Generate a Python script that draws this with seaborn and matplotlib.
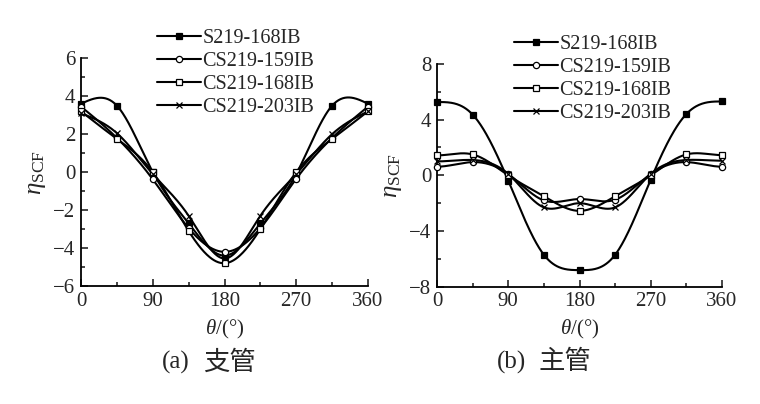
import numpy as np
import pandas as pd
import matplotlib
matplotlib.use("Agg")
import matplotlib.pyplot as plt
from matplotlib.lines import Line2D
from matplotlib.ticker import MultipleLocator
import seaborn as sns

# ---- data ----
theta = [0, 45, 90, 135, 180, 225, 270, 315, 360]
series_names = ["S219-168IB", "CS219-159IB", "CS219-168IB", "CS219-203IB"]

# (a) branch
a_S168 = [3.6, 3.5, 0.0, -2.7, -4.4, -2.7, -0.1, 3.5, 3.6]
a_CS159 = [3.45, 1.8, -0.38, -2.95, -4.2, -2.95, -0.35, 1.8, 3.45]
a_CS168 = [3.2, 1.75, 0.0, -3.1, -4.8, -3.0, 0.0, 1.75, 3.2]
a_CS203 = [3.1, 2.05, -0.1, -2.3, -4.55, -2.3, -0.1, 2.0, 3.2]

# (b) chord
b_S168 = [5.26, 4.36, -0.38, -5.7, -6.8, -5.7, -0.3, 4.4, 5.3]
b_CS159 = [0.62, 0.95, 0.1, -1.8, -1.7, -1.75, 0.1, 0.95, 0.62]
b_CS168 = [1.43, 1.5, 0.0, -1.5, -2.55, -1.5, 0.0, 1.5, 1.45]
b_CS203 = [1.0, 1.1, 0.1, -2.3, -2.0, -2.3, 0.1, 1.1, 1.05]

markers = ["s", "o", "s", "x"]
faces = ["black", "white", "white", "black"]


def cubic_spline(x, y, n=400, clamped=False):
    x = np.asarray(x, float)
    y = np.asarray(y, float)
    N = len(x)
    h = np.diff(x)
    A = np.zeros((N, N))
    r = np.zeros(N)
    for i in range(1, N - 1):
        A[i, i - 1] = h[i - 1]
        A[i, i] = 2 * (h[i - 1] + h[i])
        A[i, i + 1] = h[i]
        r[i] = 6 * ((y[i + 1] - y[i]) / h[i] - (y[i] - y[i - 1]) / h[i - 1])
    if clamped:
        A[0, 0] = 2 * h[0]; A[0, 1] = h[0]
        r[0] = 6 * ((y[1] - y[0]) / h[0])
        A[-1, -1] = 2 * h[-1]; A[-1, -2] = h[-1]
        r[-1] = 6 * (0 - (y[-1] - y[-2]) / h[-1])
    else:
        A[0, 0] = 1; A[-1, -1] = 1
    M = np.linalg.solve(A, r)
    xs = np.linspace(x[0], x[-1], n)
    idx = np.clip(np.searchsorted(x, xs) - 1, 0, N - 2)
    x0, x1 = x[idx], x[idx + 1]
    hh = x1 - x0
    t0 = x1 - xs
    t1 = xs - x0
    ys = (M[idx] * t0 ** 3 / (6 * hh) + M[idx + 1] * t1 ** 3 / (6 * hh)
          + (y[idx] / hh - M[idx] * hh / 6) * t0
          + (y[idx + 1] / hh - M[idx + 1] * hh / 6) * t1)
    return xs, ys


sns.set_theme(style="ticks")
plt.rcParams["font.family"] = ["Liberation Serif", "Noto Sans CJK SC"]
plt.rcParams["mathtext.fontset"] = "custom"
plt.rcParams["mathtext.rm"] = "Liberation Serif"
plt.rcParams["mathtext.it"] = "Liberation Serif:italic"
plt.rcParams["xtick.direction"] = "in"
plt.rcParams["ytick.direction"] = "in"

fig = plt.figure(figsize=(7.6, 4.04), dpi=100)
axA = fig.add_axes([0.1066, 0.292, 0.3776, 0.564])
axB = fig.add_axes([0.575, 0.290, 0.375, 0.552])


def draw(ax, data, clamped, ylim, ymajor, yminor, legend_pos):
    handles = []
    for name, vals, m, fc in zip(series_names, data, markers, faces):
        xs, ys = cubic_spline(theta, vals, clamped=clamped)
        df = pd.DataFrame({"theta": xs, "v": ys})
        sns.lineplot(data=df, x="theta", y="v", ax=ax, color="black",
                     linewidth=1.5, estimator=None, sort=False)
        ax.plot(theta, vals, linestyle="none", marker=m, markersize=4.5 if m != "x" else 5,
                markerfacecolor=fc, markeredgecolor="black", markeredgewidth=0.9,
                clip_on=False, zorder=5)
        handles.append(Line2D([0], [0], color="black", linewidth=1.5, marker=m,
                              markersize=4.5, markerfacecolor=fc,
                              markeredgecolor="black", markeredgewidth=0.9))
    ax.set_xlim(0, 360)
    ax.set_ylim(*ylim)
    ax.xaxis.set_major_locator(MultipleLocator(90))
    ax.xaxis.set_minor_locator(MultipleLocator(45))
    ax.yaxis.set_major_locator(MultipleLocator(ymajor))
    ax.yaxis.set_minor_locator(MultipleLocator(yminor))
    ax.tick_params(which="major", length=5, width=1.2, labelsize=15, pad=4)
    ax.tick_params(which="minor", length=3, width=1.2)
    for s in ["top", "right"]:
        ax.spines[s].set_visible(False)
    for s in ["left", "bottom"]:
        ax.spines[s].set_linewidth(1.3)
        ax.spines[s].set_color("black")
    ax.set_xlabel(r"$\theta$/(°)", fontsize=15, labelpad=5)
    ax.set_ylabel(r"$\eta_{\mathrm{SCF}}$", fontsize=18, labelpad=4)
    ax.set_facecolor("white")
    ax.grid(False)
    leg = ax.legend(handles, series_names, loc="upper left", bbox_to_anchor=legend_pos,
                    frameon=False, fontsize=14.5, handlelength=2.2, handletextpad=0.05,
                    labelspacing=0.2, borderaxespad=0, borderpad=0)
    return leg


draw(axA, [a_S168, a_CS159, a_CS168, a_CS203], False, (-6, 6), 2, 1, (0.265, 1.13))
draw(axB, [b_S168, b_CS159, b_CS168, b_CS203], True, (-8, 8), 4, 2, (0.27, 1.13))

# captions: (a)/(b) in serif, Chinese in CJK font
yc = 0.104
fig.text(176 / 760, yc, "(a)", ha="center", va="center", fontsize=18,
         family=["Liberation Serif"])
fig.text(229.5 / 760, yc, "支管", ha="center", va="center", fontsize=19,
         family=["Noto Sans CJK SC"], fontweight="light")
fig.text(512 / 760, yc, "(b)", ha="center", va="center", fontsize=18,
         family=["Liberation Serif"])
fig.text(564.5 / 760, yc, "主管", ha="center", va="center", fontsize=19,
         family=["Noto Sans CJK SC"], fontweight="light")

fig.savefig("out.png", dpi=100, facecolor="white")
